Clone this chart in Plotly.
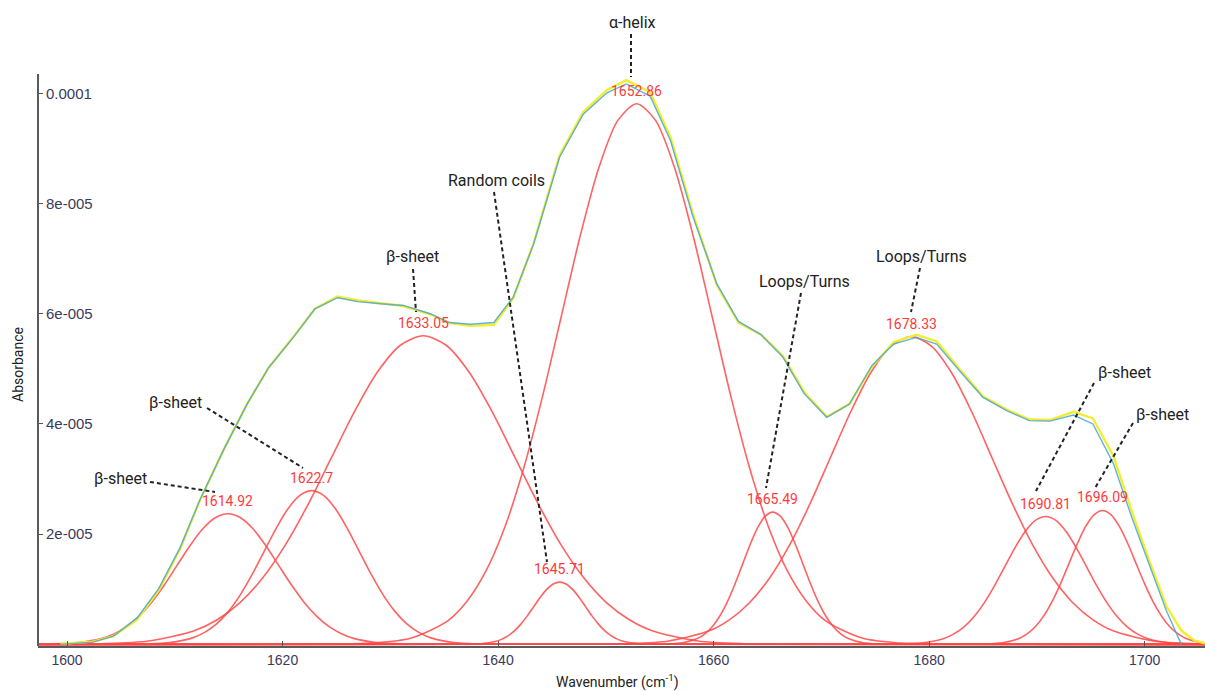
import plotly.graph_objects as go

# ---------------- data (absorbance values in units of 1e-5) ----------------
meas_x = [1599.4, 1602.4, 1604.3, 1606.5, 1608.5, 1610.5, 1612.3, 1614.5, 1616.7, 1618.7,
          1621.0, 1623.0, 1625.1, 1627.0, 1629.1, 1631.2, 1633.7, 1635.5, 1637.4, 1639.6,
          1641.4, 1643.3, 1645.7, 1647.9, 1650.1, 1651.9, 1654.1, 1656.0, 1658.1, 1660.3,
          1662.3, 1664.4, 1666.4, 1668.4, 1670.5, 1672.6, 1674.7, 1676.7, 1678.8, 1680.7,
          1682.8, 1685.0, 1687.2, 1689.3, 1691.2, 1693.4, 1695.2, 1697.1, 1698.9, 1700.5,
          1702.0, 1703.4]
meas_y = [0.0, 0.04, 0.15, 0.48, 1.01, 1.76, 2.61, 3.52, 4.36, 5.02,
          5.57, 6.09, 6.29, 6.22, 6.18, 6.15, 6.00, 5.84, 5.81, 5.84,
          6.30, 7.27, 8.84, 9.62, 10.01, 10.17, 9.95, 9.14, 7.75, 6.54,
          5.86, 5.62, 5.22, 4.55, 4.12, 4.36, 5.06, 5.45, 5.57, 5.45,
          4.97, 4.48, 4.24, 4.06, 4.05, 4.16, 4.00, 3.28, 2.25, 1.40,
          0.62, 0.0]

fit_x = [1599.4, 1602.4, 1604.3, 1606.5, 1608.5, 1610.5, 1612.3, 1614.5, 1616.7, 1618.7,
         1621.0, 1623.0, 1625.1, 1627.0, 1629.1, 1631.2, 1633.7, 1635.5, 1637.4, 1639.6,
         1641.4, 1643.3, 1645.7, 1647.9, 1650.1, 1651.9, 1654.1, 1656.0, 1658.1, 1660.3,
         1662.3, 1664.4, 1666.4, 1668.4, 1670.5, 1672.6, 1674.7, 1676.7, 1678.8, 1680.7,
         1682.8, 1685.0, 1687.2, 1689.3, 1691.2, 1693.4, 1695.2, 1697.1, 1698.9, 1700.5,
         1702.0, 1703.4, 1704.6, 1705.6]
fit_y = [0.01, 0.05, 0.15, 0.45, 0.98, 1.74, 2.60, 3.52, 4.36, 5.02,
         5.58, 6.09, 6.31, 6.24, 6.19, 6.14, 5.99, 5.83, 5.78, 5.80,
         6.28, 7.28, 8.87, 9.66, 10.06, 10.24, 10.02, 9.20, 7.80, 6.52,
         5.84, 5.62, 5.24, 4.58, 4.13, 4.36, 5.04, 5.48, 5.62, 5.50,
         5.00, 4.50, 4.26, 4.08, 4.07, 4.22, 4.10, 3.42, 2.36, 1.48,
         0.70, 0.25, 0.07, 0.02]

peak_centers = [1614.92, 1622.7, 1633.05, 1645.71, 1652.86, 1665.49, 1678.33, 1690.81, 1696.09]

comp1_x = [1596.12, 1598.47, 1600.82, 1603.17, 1604.35, 1605.52, 1606.70, 1607.87, 1609.05, 1610.22,
           1611.40, 1612.57, 1613.75, 1614.92, 1616.10, 1617.27, 1618.45, 1619.62, 1620.80, 1621.97,
           1623.15, 1624.32, 1625.50, 1626.67, 1629.02, 1631.37, 1633.72, 1706.0]
comp1_y = [0.0008, 0.005, 0.026, 0.104, 0.189, 0.321, 0.513, 0.770, 1.085, 1.437,
           1.789, 2.092, 2.297, 2.37, 2.297, 2.092, 1.789, 1.437, 1.085, 0.770,
           0.513, 0.321, 0.189, 0.104, 0.026, 0.005, 0.0008, 0.0]

comp2_x = [1596.0, 1605.1, 1607.3, 1609.5, 1611.7, 1612.8, 1613.9, 1615.0, 1616.1, 1617.2,
           1618.3, 1619.4, 1620.5, 1621.6, 1622.7, 1623.8, 1624.9, 1626.0, 1627.1, 1628.2,
           1629.3, 1630.4, 1631.5, 1632.6, 1633.7, 1635.9, 1638.1, 1640.3, 1706.0]
comp2_y = [0.0, 0.0009, 0.006, 0.031, 0.122, 0.222, 0.377, 0.603, 0.906, 1.277,
           1.692, 2.106, 2.462, 2.704, 2.79, 2.704, 2.462, 2.106, 1.692, 1.277,
           0.906, 0.603, 0.377, 0.222, 0.122, 0.031, 0.006, 0.0009, 0.0]

comp3_x = [1596.0, 1599.05, 1603.30, 1607.55, 1611.80, 1613.93, 1616.05, 1618.18, 1620.30, 1622.43,
           1624.55, 1626.68, 1628.80, 1630.93, 1633.05, 1635.18, 1637.30, 1639.43, 1641.55, 1643.68,
           1645.80, 1647.93, 1650.05, 1652.18, 1654.30, 1658.55, 1662.80, 1667.05, 1706.0]
comp3_y = [0.0, 0.0019, 0.012, 0.062, 0.246, 0.446, 0.758, 1.211, 1.818, 2.564,
           3.396, 4.227, 4.942, 5.428, 5.60, 5.428, 4.942, 4.227, 3.396, 2.564,
           1.818, 1.211, 0.758, 0.446, 0.246, 0.062, 0.012, 0.0019, 0.0]

comp4_x = [1596.0, 1636.11, 1637.31, 1638.51, 1639.71, 1640.31, 1640.91, 1641.51, 1642.11, 1642.71,
           1643.31, 1643.91, 1644.51, 1645.11, 1645.71, 1646.31, 1646.91, 1647.51, 1648.11, 1648.71,
           1649.31, 1649.91, 1650.51, 1651.11, 1651.71, 1652.91, 1654.11, 1655.31, 1706.0]
comp4_y = [0.0, 0.0004, 0.0025, 0.0125, 0.050, 0.090, 0.153, 0.244, 0.367, 0.517,
           0.685, 0.853, 0.997, 1.095, 1.13, 1.095, 0.997, 0.853, 0.685, 0.517,
           0.367, 0.244, 0.153, 0.090, 0.050, 0.0125, 0.0025, 0.0004, 0.0]

comp5_x = [1596.0, 1624.86, 1628.36, 1631.86, 1635.36, 1637.11, 1638.86, 1640.61, 1642.36, 1644.11,
           1645.86, 1647.61, 1649.36, 1651.11, 1652.86, 1654.61, 1656.36, 1658.11, 1659.86, 1661.61,
           1663.36, 1665.11, 1666.86, 1668.61, 1670.36, 1673.86, 1677.36, 1680.86, 1706.0]
comp5_y = [0.0, 0.0033, 0.022, 0.109, 0.431, 0.781, 1.327, 2.122, 3.185, 4.491,
           5.950, 7.405, 8.657, 9.508, 9.81, 9.508, 8.657, 7.405, 5.950, 4.491,
           3.185, 2.122, 1.327, 0.781, 0.431, 0.109, 0.022, 0.0033, 0.0]

comp6_x = [1596.0, 1654.29, 1655.69, 1657.09, 1658.49, 1659.19, 1659.89, 1660.59, 1661.29, 1661.99,
           1662.69, 1663.39, 1664.09, 1664.79, 1665.49, 1666.19, 1666.89, 1667.59, 1668.29, 1668.99,
           1669.69, 1670.39, 1671.09, 1671.79, 1672.49, 1673.89, 1675.29, 1676.69, 1706.0]
comp6_y = [0.0, 0.0008, 0.0053, 0.027, 0.105, 0.191, 0.325, 0.519, 0.779, 1.099,
           1.456, 1.812, 2.118, 2.326, 2.40, 2.326, 2.118, 1.812, 1.456, 1.099,
           0.779, 0.519, 0.325, 0.191, 0.105, 0.027, 0.0053, 0.0008, 0.0]

comp7_x = [1596.0, 1648.33, 1652.08, 1655.83, 1659.58, 1661.46, 1663.33, 1665.21, 1667.08, 1668.96,
           1670.83, 1672.71, 1674.58, 1676.46, 1678.33, 1680.21, 1682.08, 1683.96, 1685.83, 1687.71,
           1689.58, 1691.46, 1693.33, 1695.21, 1697.08, 1700.83, 1704.58, 1708.33]
comp7_y = [0.0, 0.0019, 0.012, 0.062, 0.245, 0.445, 0.756, 1.208, 1.813, 2.557,
           3.387, 4.216, 4.929, 5.413, 5.585, 5.413, 4.929, 4.216, 3.387, 2.557,
           1.813, 1.208, 0.756, 0.445, 0.245, 0.062, 0.012, 0.0019]

comp8_x = [1596.0, 1675.61, 1677.51, 1679.41, 1681.31, 1682.26, 1683.21, 1684.16, 1685.11, 1686.06,
           1687.01, 1687.96, 1688.91, 1689.86, 1690.81, 1691.76, 1692.71, 1693.66, 1694.61, 1695.56,
           1696.51, 1697.46, 1698.41, 1699.36, 1700.31, 1702.21, 1704.11, 1706.01]
comp8_y = [0.0, 0.0008, 0.005, 0.026, 0.102, 0.185, 0.314, 0.502, 0.753, 1.062,
           1.407, 1.751, 2.047, 2.249, 2.32, 2.249, 2.047, 1.751, 1.407, 1.062,
           0.753, 0.502, 0.314, 0.185, 0.102, 0.026, 0.005, 0.0008]

comp9_x = [1596.0, 1683.69, 1685.24, 1686.79, 1688.34, 1689.12, 1689.89, 1690.67, 1691.44, 1692.22,
           1692.99, 1693.77, 1694.54, 1695.32, 1696.09, 1696.87, 1697.64, 1698.42, 1699.19, 1699.97,
           1700.74, 1701.52, 1702.29, 1703.07, 1703.84, 1705.39, 1706.94, 1708.49]
comp9_y = [0.0, 0.0008, 0.005, 0.027, 0.107, 0.193, 0.329, 0.526, 0.789, 1.112,
           1.474, 1.834, 2.144, 2.355, 2.43, 2.355, 2.144, 1.834, 1.474, 1.112,
           0.789, 0.526, 0.329, 0.193, 0.107, 0.027, 0.005, 0.0008]

assignment_labels = ["β-sheet", "β-sheet", "β-sheet", "Random coils", "α-helix",
                     "Loops/Turns", "Loops/Turns", "β-sheet", "β-sheet"]

y_tick_vals = [2e-5, 4e-5, 6e-5, 8e-5, 1e-4]
y_tick_text = ["2e-005", "4e-005", "6e-005", "8e-005", "0.0001"]
x_tick_vals = [1600, 1620, 1640, 1660, 1680, 1700]

SCALE = 1e-5

# ---------------- layout geometry (pixel helpers) ----------------
W, H = 1205, 691
ML, MR, MT, MB = 38, 0, 74, 45
PW, PH = W - ML - MR, H - MT - MB


def paper(px, py):
    return (px - ML) / PW, (H - MB - py) / PH


# label text centres and leader lines (pixel positions)
label_pos = [(120, 478), (175, 402), (412, 256), (496, 180), (632, 22),
             (804, 281), (921, 256), (1124, 372), (1162, 414)]
leader_lines = [((150, 482), (215, 492)), ((207, 408), (303, 468)), ((413, 269), (416, 312)),
                ((494, 192), (547, 562)), ((631, 34), (631, 77)), ((801, 293), (766, 488)),
                ((920, 268), (911, 312)), ((1094, 383), (1036, 491)), ((1133, 423), (1095, 488))]

fig = go.Figure()

comps = [(comp1_x, comp1_y), (comp2_x, comp2_y), (comp3_x, comp3_y), (comp4_x, comp4_y),
         (comp5_x, comp5_y), (comp6_x, comp6_y), (comp7_x, comp7_y), (comp8_x, comp8_y),
         (comp9_x, comp9_y)]

for cx, cy in comps:
    fig.add_trace(go.Scatter(x=cx, y=[v * SCALE for v in cy], mode="lines",
                             line=dict(color="rgba(255,70,70,0.85)", width=1.6,
                                       shape="spline", smoothing=0.8),
                             hoverinfo="skip", showlegend=False))

fig.add_trace(go.Scatter(x=fit_x, y=[v * SCALE for v in fit_y], mode="lines",
                         line=dict(color="#f2ee2c", width=2.4),
                         hoverinfo="skip", showlegend=False))
fig.add_trace(go.Scatter(x=meas_x, y=[v * SCALE for v in meas_y], mode="lines",
                         line=dict(color="rgba(70,165,215,0.85)", width=1.4),
                         hoverinfo="skip", showlegend=False))

annotations = []
for c, (cx, cy) in zip(peak_centers, comps):
    annotations.append(dict(x=c, y=max(cy) * SCALE, xref="x", yref="y", text=str(c),
                            showarrow=False, yshift=13, xanchor="center", yanchor="middle",
                            font=dict(family="Roboto", size=14, color="#ff3a3a")))

for txt, (px, py) in zip(assignment_labels, label_pos):
    ax, ay = paper(px, py)
    annotations.append(dict(x=ax, y=ay, xref="paper", yref="paper", text=txt,
                            showarrow=False, xanchor="center", yanchor="middle",
                            font=dict(family="Roboto", size=16, color="#222222")))

# axis titles
tx, ty = paper(18, 365)
annotations.append(dict(x=tx, y=ty, xref="paper", yref="paper", text="Absorbance",
                        textangle=-90, showarrow=False, xanchor="center", yanchor="middle",
                        font=dict(family="Roboto", size=14, color="#222222")))
tx, ty = paper(617, 681)
annotations.append(dict(x=tx, y=ty, xref="paper", yref="paper", text="Wavenumber (cm<sup>-1</sup>)",
                        showarrow=False, xanchor="center", yanchor="middle",
                        font=dict(family="Roboto", size=14, color="#222222")))

shapes = []
for (p0, p1) in leader_lines:
    x0, y0 = paper(*p0)
    x1, y1 = paper(*p1)
    shapes.append(dict(type="line", xref="paper", yref="paper", x0=x0, y0=y0, x1=x1, y1=y1,
                       line=dict(color="#222222", width=2, dash="4px,3px")))

fig.update_layout(
    width=W, height=H,
    margin=dict(l=ML, r=MR, t=MT, b=MB),
    paper_bgcolor="white", plot_bgcolor="white",
    showlegend=False,
    annotations=annotations,
    shapes=shapes,
    xaxis=dict(range=[1597.3, 1705.6], tickvals=x_tick_vals, ticks="inside", ticklen=5,
               tickwidth=1, tickcolor="#555555", showgrid=False, zeroline=False,
               showline=True, linecolor="#5a5a5a", linewidth=2,
               tickfont=dict(family="Liberation Sans", size=14, color="#3a3a5a")),
    yaxis=dict(range=[-0.03e-5, 10.35e-5], tickvals=y_tick_vals, ticktext=y_tick_text,
               side="right", anchor="free", position=0,
               ticks="outside", ticklen=4, tickwidth=1, tickcolor="#555555",
               showgrid=False, zeroline=False,
               showline=True, linecolor="#5a5a5a", linewidth=2,
               tickfont=dict(family="Liberation Sans", size=15, color="#3a3a5a")),
)

fig.write_html("out.html", config={"displayModeBar": False})
